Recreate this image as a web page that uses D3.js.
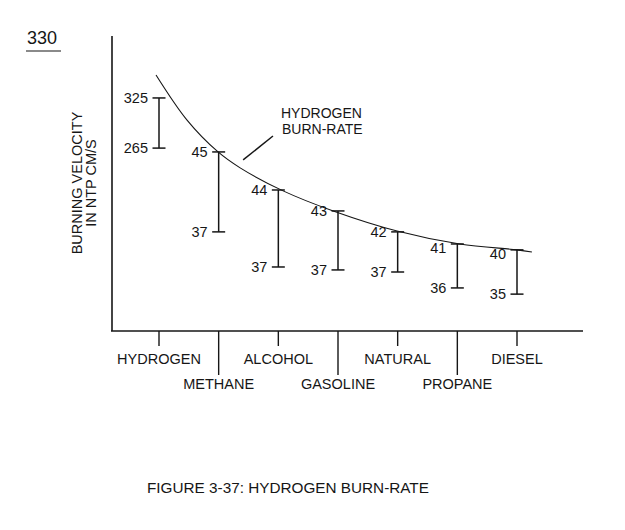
<!DOCTYPE html>
<html>
<head>
<meta charset="utf-8">
<script src="https://cdn.jsdelivr.net/npm/d3@7"></script>
<style>
  body { margin: 0; background: #fff; }
  svg text { font-family: "Liberation Sans", Arial, Helvetica, sans-serif; fill: #161616; }
</style>
</head>
<body>
<div id="chart"></div>
<script>
// fuels along the x axis
const fuels = ["HYDROGEN", "METHANE", "ALCOHOL", "GASOLINE", "NATURAL", "PROPANE", "DIESEL"];
// printed range labels (cm/s)
const highLabels = ["325", "45", "44", "43", "42", "41", "40"];
const lowLabels = ["265", "37", "37", "37", "37", "36", "35"];
// plotted bar ends in axis units (0-100, the figure has no y ticks)
const highPlot = [79.0, 60.7, 47.8, 40.7, 33.6, 29.5, 27.5];
const lowPlot = [62.0, 33.6, 21.7, 20.7, 20.0, 14.6, 12.5];
// hydrogen burn-rate curve: [fuel index, axis units]
const curveIdx = [-0.05, 0.47, 0.99, 1.36, 2.08, 2.92, 3.99, 5.04, 6.0, 6.25];
const curveVal = [86.8, 71.5, 60.7, 55.3, 47.5, 40.7, 33.9, 29.5, 27.5, 26.8];

const width = 625, height = 530;
const svg = d3.select("#chart").append("svg")
  .attr("width", width)
  .attr("height", height);

const x = d3.scalePoint().domain(fuels).range([159, 517]);
const xi = d3.scaleLinear().domain([0, fuels.length - 1]).range([159, 517]);
const y = d3.scaleLinear().domain([0, 100]).range([331, 36]);

const ink = "#161616";

// page number
svg.append("text")
  .attr("x", 27).attr("y", 44)
  .style("font-size", "18px")
  .text("330");
svg.append("line")
  .attr("x1", 26).attr("x2", 61).attr("y1", 51).attr("y2", 51)
  .attr("stroke", ink).attr("stroke-width", 1.2);

// axes
svg.append("line")
  .attr("x1", 112).attr("x2", 112).attr("y1", y(100)).attr("y2", y(0))
  .attr("stroke", ink).attr("stroke-width", 1.6);
svg.append("line")
  .attr("x1", 111).attr("x2", 583).attr("y1", y(0)).attr("y2", y(0))
  .attr("stroke", ink).attr("stroke-width", 1.6);

// category ticks, alternating short and long
const ticks = svg.append("g");
fuels.forEach((f, i) => {
  const long = i % 2 === 1;
  ticks.append("line")
    .attr("x1", x(f)).attr("x2", x(f))
    .attr("y1", y(0)).attr("y2", y(0) + (long ? 44 : 15))
    .attr("stroke", ink).attr("stroke-width", 1.4);
  ticks.append("text")
    .attr("x", x(f)).attr("y", long ? 389 : 364)
    .attr("text-anchor", "middle")
    .style("font-size", "14.5px")
    .text(f);
});

// y axis title
const yt = svg.append("text")
  .attr("transform", "translate(82,183) rotate(-90)")
  .attr("text-anchor", "middle")
  .style("font-size", "14.5px");
yt.append("tspan").attr("x", 0).attr("y", 0).text("BURNING VELOCITY");
yt.append("tspan").attr("x", 0).attr("y", 14).text("IN NTP CM/S");

// burn-rate curve
const pts = curveIdx.map((c, i) => [xi(c), y(curveVal[i])]);
svg.append("path")
  .attr("d", d3.line().curve(d3.curveCatmullRom)(pts))
  .attr("fill", "none")
  .attr("stroke", ink)
  .attr("stroke-width", 1.1);

// range bars
const bars = svg.append("g").attr("stroke", ink).attr("stroke-width", 1.5);
fuels.forEach((f, i) => {
  const cx = x(f);
  bars.append("line").attr("x1", cx).attr("x2", cx)
    .attr("y1", y(highPlot[i])).attr("y2", y(lowPlot[i]));
  [highPlot[i], lowPlot[i]].forEach(v => {
    bars.append("line").attr("x1", cx - 6.5).attr("x2", cx + 6.5)
      .attr("y1", y(v)).attr("y2", y(v));
  });
});

// range labels
const labels = svg.append("g").style("font-size", "14.5px").attr("text-anchor", "end");
fuels.forEach((f, i) => {
  const lx = x(f) - 11;
  labels.append("text").attr("x", lx).attr("y", y(highPlot[i]))
    .attr("dy", i >= 5 ? "0.6em" : "0.36em").text(highLabels[i]);
  labels.append("text").attr("x", lx).attr("y", y(lowPlot[i]))
    .attr("dy", "0.36em").text(lowLabels[i]);
});

// annotation
svg.append("line")
  .attr("x1", xi(1.41)).attr("y1", y(58.0))
  .attr("x2", xi(1.91)).attr("y2", y(66.1))
  .attr("stroke", ink).attr("stroke-width", 1.5);
const ann = svg.append("g").style("font-size", "14px");
ann.append("text").attr("x", 281).attr("y", 118).text("HYDROGEN");
ann.append("text").attr("x", 282).attr("y", 134).text("BURN-RATE");

// caption
svg.append("text")
  .attr("x", 147).attr("y", 493)
  .style("font-size", "15.3px")
  .text("FIGURE 3-37: HYDROGEN BURN-RATE");
</script>
</body>
</html>
